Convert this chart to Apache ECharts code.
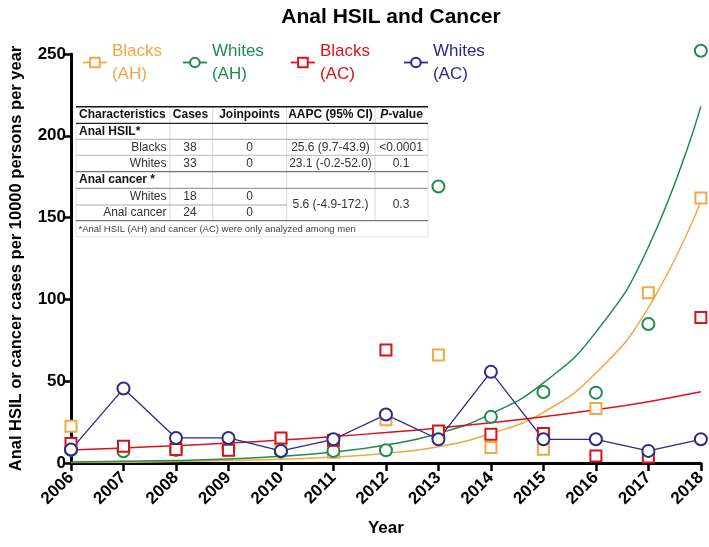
<!DOCTYPE html>
<html>
<head>
<meta charset="utf-8">
<script src="https://cdn.jsdelivr.net/npm/echarts@6/dist/echarts.min.js"></script>
<style>
  html, body { margin: 0; padding: 0; background: #fff; }
  #main { width: 709px; height: 547px; }
</style>
</head>
<body>
<div id="main"></div>
<script>
// years on the x axis
var years = [2006, 2007, 2008, 2009, 2010, 2011, 2012, 2013, 2014, 2015, 2016, 2017, 2018];

var blacksAH = [22.5, 10, 9, 8, 14, 6.5, 26.5, 66, 9.4, 8.4, 33.3, 104, 162];
var whitesAH = [8, 7.2, 8, 9, 7, 7.4, 7.8, 169, 28.2, 43.4, 43, 85, 252];
var blacksAC = [11.9, 10.2, 8.2, 7.8, 15.3, 13.9, 69, 19.6, 17.6, 18, 4.3, 3.7, 89];
var whitesAC = [8.2, 45.5, 15.3, 15.3, 7.4, 14.5, 29.6, 14.5, 55.7, 14.5, 14.5, 7.4, 14.5];

// fitted trend curves at each year
var fitBlacksAH = [0.3, 0.5, 0.9, 1.5, 2.3, 3.6, 6, 10, 18, 31, 55, 95, 160];
var fitWhitesAH = [0.6, 1.0, 1.5, 2.5, 4.1, 6.7, 11, 18, 30, 49, 80, 132, 218];
var fitBlacksAC = [8, 9.2, 10.6, 12.2, 14, 16.2, 18.6, 21.4, 24.6, 28.3, 32.5, 37.5, 43.5];

// table text
var tableHead = ["Characteristics", "Cases", "Joinpoints", "AAPC (95% CI)", "{i|P}-value"];
var tableRows = [
  ["Anal HSIL*"],
  ["Blacks", "38", "0", "25.6 (9.7-43.9)", "<0.0001"],
  ["Whites", "33", "0", "23.1 (-0.2-52.0)", "0.1"],
  ["Anal cancer *"],
  ["Whites", "18", "0"],
  ["Anal cancer", "24", "0"]
];
var mergedAAPC = "5.6 (-4.9-172.)";
var mergedP = "0.3";
var footNote = "*Anal HSIL (AH) and cancer (AC) were only analyzed among men";

var cOrange = "#f3a746";
var cGreen = "#1f8b4f";
var cRed = "#d6141c";
var cNavy = "#2b2a86";
var font = "Liberation Sans, Arial, sans-serif";

function pairs(vals) {
  var out = [];
  for (var i = 0; i < years.length; i++) out.push([years[i], vals[i]]);
  return out;
}

// ---- table drawn as graphic elements ----
var tL = 76, tR = 428;
var colSep = [170, 212.7, 286.7, 375];
var rowY = [131.5, 147.5, 163.5, 180, 196.5, 212.7];
var g = [];
g.push({ type: "rect", shape: { x: tL, y: 106, width: tR - tL, height: 131 }, style: { fill: "#fff" }, z: 1 });
function hline(y, x1, x2, color, w) {
  g.push({ type: "line", shape: { x1: x1, y1: y, x2: x2, y2: y }, style: { stroke: color, lineWidth: w }, z: 3 });
}
function vline(x, y1, y2, color) {
  g.push({ type: "line", shape: { x1: x, y1: y1, x2: x, y2: y2 }, style: { stroke: color, lineWidth: 1 }, z: 2 });
}
function txt(s, x, y, align, bold, size, color) {
  g.push({
    type: "text", x: x, y: y, z: 4,
    style: {
      text: s, align: align, verticalAlign: "middle",
      font: (bold ? "bold " : "") + size + "px " + font,
      fill: color || "#222",
      rich: { i: { fontStyle: "italic", fontWeight: "bold", fontSize: size, fontFamily: font, fill: color || "#222" } }
    }
  });
}
colSep.forEach(function (x) { vline(x, 107, 221, "#d8d8d8"); });
vline(tL, 123, 237, "#e2e2e2");
vline(tR, 123, 237, "#e2e2e2");
hline(106.7, tL, tR, "#111", 1.5);
hline(123.3, tL, tR, "#222", 1.2);
hline(139.3, tL, tR, "#aaa", 1);
hline(155.3, tL, tR, "#bbb", 1);
hline(171.7, tL, tR, "#555", 1);
hline(188.3, tL, tR, "#888", 1);
hline(205, tL, colSep[2], "#aaa", 1);
hline(220.7, tL, tR, "#555", 1);
hline(236.7, tL, tR, "#e2e2e2", 1);

var hx = [79, 190.5, 249.5, 330.5, 401.5];
var ha = ["left", "center", "center", "center", "center"];
tableHead.forEach(function (h, i) { txt(h, hx[i], 115, ha[i], true, 12, "#111"); });
var bx = [166.5, 190, 249.5, 330.5, 401];
tableRows.forEach(function (r, k) {
  if (r.length === 1) { txt(r[0], 79, rowY[k], "left", true, 12, "#111"); return; }
  r.forEach(function (s, i) { txt(s, bx[i], rowY[k], i === 0 ? "right" : "center", false, 12, "#333"); });
});
txt(mergedAAPC, 330.5, 204.5, "center", false, 12, "#333");
txt(mergedP, 401, 204.5, "center", false, 12, "#333");
txt(footNote, 78.5, 229, "left", false, 9.5, "#444");

// ---- legends (one per entry so each can sit where the reference has it) ----
function legendFor(name, color, left) {
  return {
    data: [name], left: left, top: 28, padding: 0,
    itemWidth: 24, itemHeight: 12,
    lineStyle: { opacity: 1, width: 1.8 },
    textStyle: { color: color, fontSize: 17, fontFamily: font, lineHeight: 23, padding: [23, 0, 0, 0] },
    selectedMode: false
  };
}

function pointSeries(name, vals, color, symbol, size) {
  return {
    name: name, type: "line", data: pairs(vals), clip: false,
    symbol: symbol, symbolSize: size, showAllSymbol: true,
    itemStyle: { color: color, borderColor: color, borderWidth: 2.5 },
    lineStyle: { color: color, width: 1.8, opacity: 0 },
    z: 5
  };
}
function curveSeries(vals, color) {
  return {
    type: "line", data: pairs(vals), smooth: 0.5,
    showSymbol: false, symbol: "none", silent: true,
    lineStyle: { color: color, width: 1.5 }, z: 3
  };
}

var navy = pointSeries("Whites\n(AC)", whitesAC, cNavy, "emptyCircle", 12);
navy.lineStyle = { color: cNavy, width: 1.3, opacity: 1 };

var chart = echarts.init(document.getElementById("main"));
chart.setOption({
  backgroundColor: "#fff",
  animation: false,
  title: {
    text: "Anal HSIL and Cancer", left: 386, top: 2, textAlign: "center",
    textStyle: { fontSize: 21, fontWeight: "bold", fontFamily: font, color: "#000" }
  },
  legend: [
    legendFor("Blacks\n(AH)", cOrange, 82),
    legendFor("Whites\n(AH)", cGreen, 182),
    legendFor("Blacks\n(AC)", cRed, 290),
    legendFor("Whites\n(AC)", cNavy, 403)
  ],
  grid: { left: 68, right: 8, top: 54, bottom: 84 },
  xAxis: {
    type: "value", min: 2006, max: 2018, interval: 1,
    name: "Year", nameLocation: "middle", nameGap: 57,
    nameTextStyle: { fontSize: 17, fontWeight: "bold", fontFamily: font, color: "#000" },
    axisLine: { lineStyle: { color: "#000", width: 3 } },
    axisTick: { length: 8, lineStyle: { color: "#000", width: 2.5 } },
    axisLabel: {
      rotate: 45, margin: 12, fontSize: 17, fontWeight: "bold", fontFamily: font, color: "#000",
      formatter: function (v) { return String(v); }
    },
    splitLine: { show: false }
  },
  yAxis: {
    type: "value", min: 0, max: 250, interval: 50,
    name: "Anal HSIL or cancer cases per 10000 persons per year",
    nameLocation: "middle", nameGap: 46,
    nameTextStyle: { fontSize: 16.5, fontWeight: "bold", fontFamily: font, color: "#000" },
    axisLine: { show: true, lineStyle: { color: "#000", width: 3 } },
    axisTick: { show: true, length: 7, lineStyle: { color: "#000", width: 2.5 } },
    axisLabel: { margin: 5, fontSize: 17, fontWeight: "bold", fontFamily: font, color: "#000" },
    splitLine: { show: false }
  },
  graphic: g,
  series: [
    curveSeries(fitBlacksAH, cOrange),
    curveSeries(fitWhitesAH, cGreen),
    curveSeries(fitBlacksAC, cRed),
    pointSeries("Blacks\n(AH)", blacksAH, cOrange, "emptyRect", 11),
    pointSeries("Whites\n(AH)", whitesAH, cGreen, "emptyCircle", 12),
    pointSeries("Blacks\n(AC)", blacksAC, cRed, "emptyRect", 11),
    navy
  ]
});
</script>
</body>
</html>
